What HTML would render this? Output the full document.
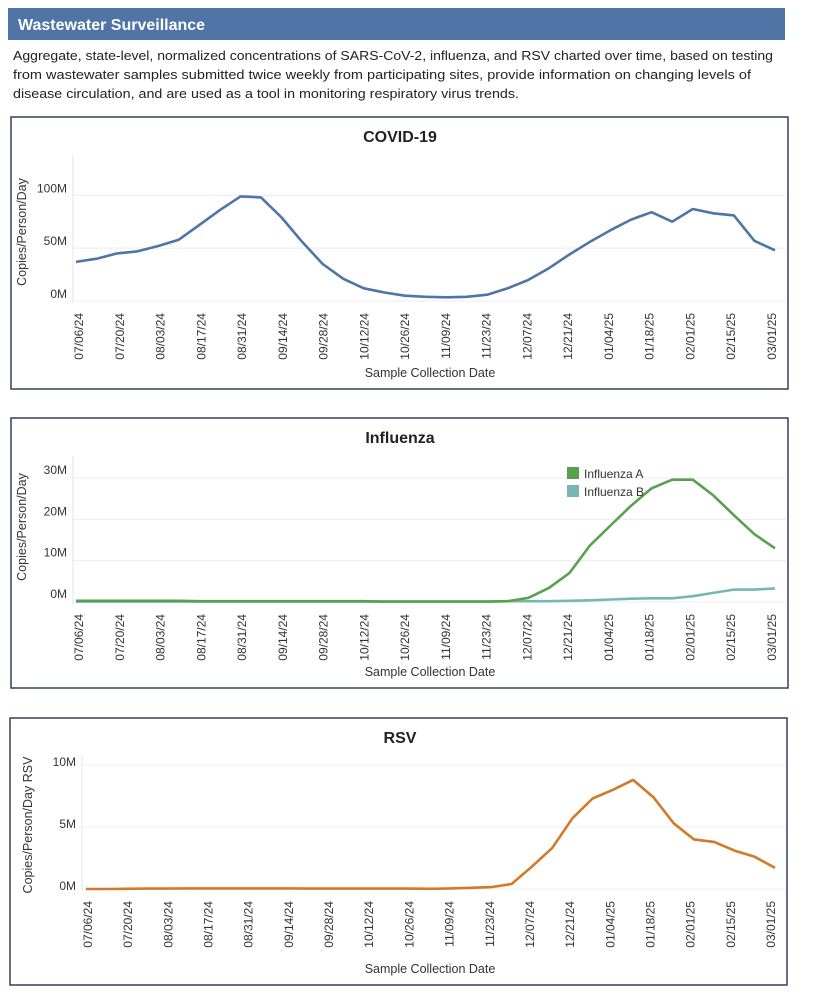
<!DOCTYPE html>
<html><head><meta charset="utf-8"><style>
body{margin:0;background:#fff;}
svg text{font-family:"Liberation Sans",sans-serif;}
</style></head><body>
<svg id="root" width="818" height="1000" viewBox="0 0 818 1000" xmlns="http://www.w3.org/2000/svg">
<rect x="8" y="8" width="777" height="32" fill="#4f74a5"/>
<text x="18" y="30" font-size="16" font-weight="bold" fill="#fff">Wastewater Surveillance</text>
<g font-size="13.3" fill="#222">
<text x="13" y="60" textLength="760" lengthAdjust="spacingAndGlyphs">Aggregate, state-level, normalized concentrations of SARS-CoV-2, influenza, and RSV charted over time, based on testing</text>
<text x="13" y="79" textLength="738" lengthAdjust="spacingAndGlyphs">from wastewater samples submitted twice weekly from participating sites, provide information on changing levels of</text>
<text x="13" y="98" textLength="506" lengthAdjust="spacingAndGlyphs">disease circulation, and are used as a tool in monitoring respiratory virus trends.</text>
</g>
<g id="c1"></g><g id="c2"></g><g id="c3"></g>
</svg>
<script>
const tickLabels = ["07/06/24","07/20/24","08/03/24","08/17/24","08/31/24","09/14/24","09/28/24","10/12/24","10/26/24","11/09/24","11/23/24","12/07/24","12/21/24","01/04/25","01/18/25","02/01/25","02/15/25","03/01/25"];
const covidValues = [37,40,45,47,52,58,72,86,99,98,79,56,35,21,12,8,5,4,3.5,4,6,12,20,31,44,56,67,77,84,75,87,83,81,57,48];
const fluAValues = [0.3,0.3,0.3,0.3,0.3,0.3,0.2,0.2,0.2,0.2,0.2,0.2,0.2,0.2,0.2,0.1,0.1,0.1,0.1,0.1,0.1,0.2,1,3.4,7,13.7,18.5,23.3,27.5,29.6,29.6,25.8,21,16.4,13];
const fluBValues = [0.1,0.1,0.1,0.1,0.1,0.1,0.1,0.1,0.1,0.1,0.1,0.1,0.1,0.1,0.1,0.1,0.1,0.1,0.1,0.1,0.1,0.2,0.2,0.2,0.3,0.4,0.6,0.8,0.9,0.9,1.4,2.2,3,3,3.3];
const rsvValues = [0,0,0.02,0.03,0.03,0.05,0.05,0.05,0.05,0.05,0.05,0.03,0.03,0.03,0.03,0.03,0.03,0.02,0.05,0.1,0.15,0.4,1.8,3.3,5.7,7.3,8.0,8.8,7.4,5.3,4.0,3.8,3.1,2.6,1.7];
const covidTicks = [0,50,100], fluTicks = [0,10,20,30], rsvTicks = [0,5,10];
const NS="http://www.w3.org/2000/svg";
function mk(parent,tag,attrs,text){const e=document.createElementNS(NS,tag);for(const k in attrs)e.setAttribute(k,attrs[k]);if(text!==undefined)e.textContent=text;parent.appendChild(e);return e;}
function chart(g,cfg){
  const box=mk(g,'rect',{x:cfg.bx,y:cfg.by,width:777,height:cfg.bh,fill:'none',stroke:'#2e4060','stroke-width':1.5});
  
  
  const t=mk(g,'text',{x:400,y:cfg.by+25,'font-size':16,'font-weight':'bold','text-anchor':'middle',fill:'#222'},cfg.title);
  
  
  const X=i=>cfg.x0+(cfg.x1-cfg.x0)*i/34;
  const Y=v=>cfg.y0-(cfg.y0-cfg.yTop)*v/cfg.vTop;
  cfg.ticks.forEach(v=>{
    const gl=mk(g,'line',{x1:cfg.px,x2:786,y1:Y(v),y2:Y(v),stroke:'#ececec','stroke-width':1});
    
    
    const tl=mk(g,'text',{x:cfg.px-6,y:Y(v)+cfg.lblDy,'font-size':12,'text-anchor':'end',fill:'#333'},v+'M');
    
    
  });
  const ax=mk(g,'line',{x1:cfg.px,x2:cfg.px,y1:cfg.by+38,y2:cfg.y0+2,stroke:'#e4e4e4'});
  
  
  tickLabels.forEach((s,i)=>{
    const cx=cfg.lx0+(cfg.lx1-cfg.lx0)*i/17+4, ty=cfg.y0+12;
    const xl=mk(g,'text',{x:cx,y:ty,'font-size':12,'text-anchor':'end',fill:'#333',transform:`rotate(-90 ${cx} ${ty})`},s);
    
    
  });
  const xt=mk(g,'text',{x:430,y:cfg.by+cfg.bh-12,'font-size':12.5,'text-anchor':'middle',fill:'#333'},'Sample Collection Date');
  
  
  const yx=cfg.ytx, yy=cfg.yty;
  const yt=mk(g,'text',{x:yx,y:yy,'font-size':12.5,'text-anchor':'middle',fill:'#333',transform:`rotate(-90 ${yx} ${yy})`},cfg.ytitle);
  
  
  cfg.series.forEach(s=>{
    const d=s.vals.map((v,i)=>(i?'L':'M')+X(i).toFixed(1)+','+Y(v).toFixed(1)).join(' ');
    const p=mk(g,'path',{d:d,fill:'none',stroke:s.color,'stroke-width':2.6,'stroke-linejoin':'round'});
    
    
  });
}
chart(document.getElementById('c1'),{id:'covid',title:'COVID-19',bx:11,by:117,bh:272,x0:76,x1:775,lx0:79,lx1:772,px:73,y0:301,yTop:195.3,vTop:100,ticks:covidTicks,lblDy:-3,ytx:26,yty:232,ytitle:'Copies/Person/Day',series:[{name:'covid-line',color:'#4f75a6',vals:covidValues}]});
chart(document.getElementById('c2'),{id:'flu',title:'Influenza',bx:11,by:418,bh:270,x0:76,x1:775,lx0:79,lx1:772,px:73,y0:602,yTop:478,vTop:30,ticks:fluTicks,lblDy:-4,ytx:26,yty:527,ytitle:'Copies/Person/Day',series:[{name:'influenza-b-line',color:'#76b7b2',vals:fluBValues},{name:'influenza-a-line',color:'#59a14f',vals:fluAValues}]});
chart(document.getElementById('c3'),{id:'rsv',title:'RSV',bx:10,by:718,bh:267,x0:86,x1:775,lx0:88,lx1:771,px:82,y0:889,yTop:765,vTop:10,ticks:rsvTicks,lblDy:1,ytx:32,yty:825,ytitle:'Copies/Person/Day RSV',series:[{name:'rsv-line',color:'#d27a2c',vals:rsvValues}]});
const c2=document.getElementById('c2');
const la=mk(c2,'g',{});


mk(la,'rect',{x:567,y:467,width:12,height:12,fill:'#59a14f'});
mk(la,'text',{x:584,y:478,'font-size':12,fill:'#333'},'Influenza A');
const lb=mk(c2,'g',{});


mk(lb,'rect',{x:567,y:485,width:12,height:12,fill:'#76b7b2'});
mk(lb,'text',{x:584,y:496,'font-size':12,fill:'#333'},'Influenza B');
</script>
</body></html>
